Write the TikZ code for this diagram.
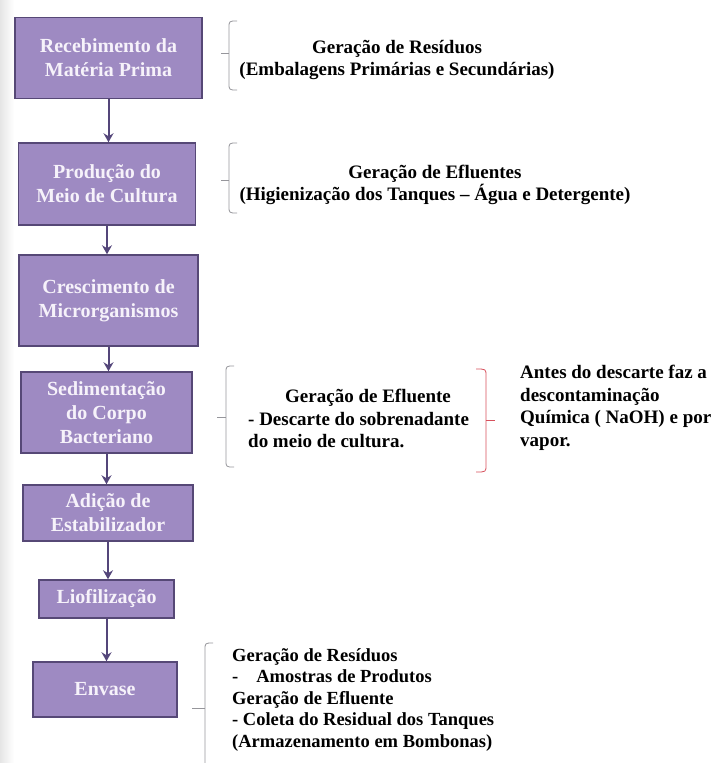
\documentclass[tikz,border=0pt]{standalone}
\usepackage{fontspec}
\setmainfont{Liberation Serif}
\usetikzlibrary{arrows.meta}
\usetikzlibrary{positioning}
\usepackage{xcolor}
\definecolor{caixa}{RGB}{158,138,194}
\definecolor{borda}{RGB}{86,72,118}
\definecolor{seta}{RGB}{84,70,122}
\definecolor{chaveg}{RGB}{150,150,155}
\definecolor{chaver}{RGB}{214,80,92}
\definecolor{letra}{RGB}{246,242,250}

\begin{document}
\begin{tikzpicture}[x=1pt,y=-1pt,
  etapa/.style={draw=borda, line width=1.5pt, fill=caixa, text=letra, align=center, inner sep=0pt,
    font=\fontsize{20}{24}\selectfont\bfseries},
  fluxo/.style={-{Stealth[length=9pt,width=10pt,inset=3pt]}, line width=2pt, draw=seta},
  chave/.style={draw=chaveg, line width=0.8pt},
  nota/.style={inner sep=0pt, font=\fontsize{19}{22.5}\selectfont\bfseries}]

\useasboundingbox (0,0) rectangle (726,763);
\shade[left color=black!10, right color=white] (0,0) rectangle (14,763);

%etapas
\node[etapa, minimum width=187pt, minimum height=81pt] (receb) at (108.5,58) {Recebimento da\\Matéria Prima};
\node[etapa, minimum width=177pt, minimum height=82pt] (meio) at (107,184) {Produção do\\Meio de Cultura};
\node[etapa, minimum width=179pt, minimum height=91pt] (cresc) at (108.5,300.5) {Crescimento de\\Microrganismos};
\node[etapa, minimum width=171pt, minimum height=81pt] (sedim) at (106.5,412.5) {Sedimentação\\do Corpo\\Bacteriano};
\node[etapa, minimum width=170pt, minimum height=56pt] (estab) at (108,513) {Adição de\\Estabilizador};
\node[etapa, minimum width=135pt, minimum height=38pt] (liof) at (106.5,599) {Liofilização};
\node[etapa, minimum width=144pt, minimum height=55pt] (envase) at (105,689.5) {Envase};

%setas
\draw[fluxo] (receb.south) -- (receb.south |- meio.north);
\draw[fluxo] (meio.south) -- (meio.south |- cresc.north);
\draw[fluxo] (cresc.south) -- (cresc.south |- sedim.north);
\draw[fluxo] (sedim.south) -- (sedim.south |- estab.north);
\draw[fluxo] (estab.south) -- (estab.south |- liof.north);
\draw[fluxo] (liof.south) -- (liof.south |- envase.north);

%chaves
\draw[chave] (237,21) .. controls (229,21) .. (229,28) -- (229,83) .. controls (229,90) .. (237,90);
\draw[chave] (229,53) -- (221,53);
\draw[chave] (237,143) .. controls (229,143) .. (229,150) -- (229,206) .. controls (229,213) .. (237,213);
\draw[chave] (229,180) -- (221,180);
\draw[chave] (234,366) .. controls (226,366) .. (226,373) -- (226,460) .. controls (226,467) .. (234,467);
\draw[chave] (226,417) -- (217,417);
\draw[chave, draw=chaver] (476,369) .. controls (486,369) .. (486,376) -- (486,465) .. controls (486,472) .. (476,472);
\draw[chave, draw=chaver] (486,420) -- (495,420);
\draw[chave] (213,643) .. controls (205,643) .. (205,650) -- (205,763);
\draw[chave] (205,708) -- (192,708);

%textos
\node[nota, align=center] (res1) at (397,60) {Geração de Resíduos\\(Embalagens Primárias e Secundárias)};
\node[nota, align=center] (efl1) at (435,185) {Geração de Efluentes\\(Higienização dos Tanques -- Água e Detergente)};
\node[nota, align=left, anchor=north west] (efl2) at (248,389) {\hspace*{37pt}Geração de Efluente\\- Descarte do sobrenadante\\do meio de cultura.};
\node[nota, align=left, anchor=north west] (desc) at (520,365) {Antes do descarte faz a\\descontaminação\\Química ( NaOH) e por\\vapor.};
\node[nota, align=left, anchor=north west, font=\fontsize{18.5}{21.5}\selectfont\bfseries] (envnota) at (232,648) {Geração de Resíduos\\-\hspace{18pt}Amostras de Produtos\\Geração de Efluente\\- Coleta do Residual dos Tanques\\(Armazenamento em Bombonas)};

\end{tikzpicture}
\end{document}
